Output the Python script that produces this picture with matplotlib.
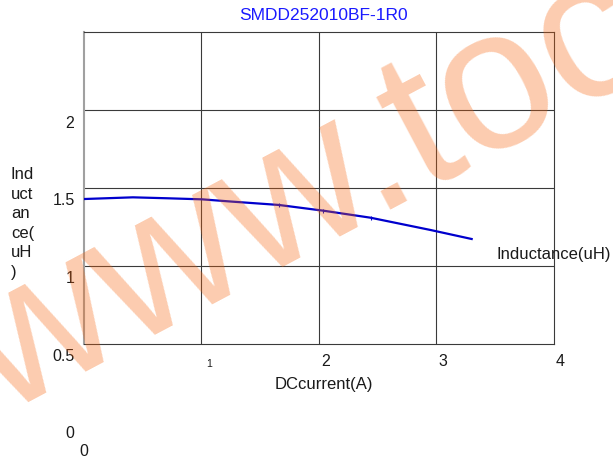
import matplotlib
matplotlib.use('Agg')
import numpy as np
import matplotlib.pyplot as plt
from matplotlib.transforms import blended_transform_factory, offset_copy

plt.rcParams['font.family'] = ['Liberation Sans', 'DejaVu Sans']

# данные кривой индуктивности
current = [0.0, 0.42, 0.71, 1.01, 1.27, 1.66, 2.04, 2.44, 2.95, 3.30]
inductance = [1.511, 1.522, 1.516, 1.509, 1.494, 1.473, 1.436, 1.391, 1.312, 1.254]

x_ticks = [0, 1, 2, 3, 4]
x_tick_labels = ['0', '1', '2', '3', '4']
y_ticks = [0, 0.5, 1, 1.5, 2]
y_tick_labels = ['0', '0.5', '1', '1.5', '2']

title = 'SMDD252010BF-1R0'
x_label = 'DCcurrent(A)'
y_label = 'Ind\nuct\nan\nce(\nuH\n)'
legend_label = 'Inductance(uH)'

W, H = 613, 463
fig = plt.figure(figsize=(W / 100, H / 100), dpi=100)
fig.patch.set_facecolor('white')

# рамка графика (в пикселях исходника)
left, right, top, bottom = 83.5, 554, 31.7, 344
ax = fig.add_axes([left / W, 1 - bottom / H, (right - left) / W, (bottom - top) / H])

# шкала по y: подписи стоят на своих значениях, сетка сдвинута
y_lo = (434 - bottom) / 155.5
y_hi = (434 - top) / 155.5
ax.set_xlim(0, 4)
ax.set_ylim(y_lo, y_hi)

grid_color = '#3a3a3a'
for gx in [1, 2, 3]:
    ax.axvline(gx, color=grid_color, lw=0.8, zorder=1)
for gy in np.linspace(y_lo, y_hi, 5)[1:-1]:
    ax.axhline(gy, color=grid_color, lw=0.8, zorder=1)

ax.plot(current, inductance, color='#0000cd', lw=1.6, zorder=3)
ax.plot(current[5:8], inductance[5:8], ls='none', marker='|', ms=3,
        color='#0000cd', mew=0.8, zorder=3)

ax.set_xticks([])
ax.set_yticks([])
for side in ['top', 'right', 'bottom']:
    ax.spines[side].set_color(grid_color)
    ax.spines[side].set_linewidth(0.8)
ax.spines['left'].set_color('#a0a0a0')
ax.spines['left'].set_linewidth(1.5)

# подписи делений по y
ytrans = blended_transform_factory(ax.transAxes, ax.transData)
ytrans = offset_copy(ytrans, fig=fig, x=-9, y=0, units='dots')
for v, lab in zip(y_ticks, y_tick_labels):
    ax.text(0, v, lab, transform=ytrans, ha='right', va='center',
            fontsize=11.5, color='#1a1a1a', clip_on=False)

# подписи делений по x
xtrans = blended_transform_factory(ax.transData, fig.transFigure)
for v, lab in zip(x_ticks, x_tick_labels):
    if v == 0:
        ax.text(v + 0.005, 1 - 451 / H, lab, transform=xtrans, ha='center',
                va='center', fontsize=11.5, color='#1a1a1a', clip_on=False)
    elif v == 1:
        ax.text(v + 0.065, 1 - 364 / H, lab, transform=xtrans, ha='center',
                va='center', fontsize=7.5, color='#1a1a1a', clip_on=False)
    else:
        ax.text(v + 0.055, 1 - 362 / H, lab, transform=xtrans, ha='center',
                va='center', fontsize=11.5, color='#1a1a1a', clip_on=False)

fig.text(324 / W, 1 - 15 / H, title, ha='center', va='center',
         fontsize=12.5, color='#1a1aff')
fig.text(323.5 / W, 1 - 385 / H, x_label, ha='center', va='center',
         fontsize=12, color='#1a1a1a')
fig.text(11 / W, 1 - 167 / H, y_label, ha='left', va='top',
         fontsize=12, color='#1a1a1a', linespacing=1.38)
fig.text(496 / W, 1 - 255 / H, legend_label, ha='left', va='center',
         fontsize=12, color='#1a1a1a')

# водяной знак
fig.text(2 / W, 1 - 416 / H, 'www.toc', ha='left', va='baseline',
         rotation=28, rotation_mode='anchor', fontsize=144,
         color='#f7630c', alpha=0.33, zorder=10)

plt.savefig('out.png', dpi=100)
plt.close()
